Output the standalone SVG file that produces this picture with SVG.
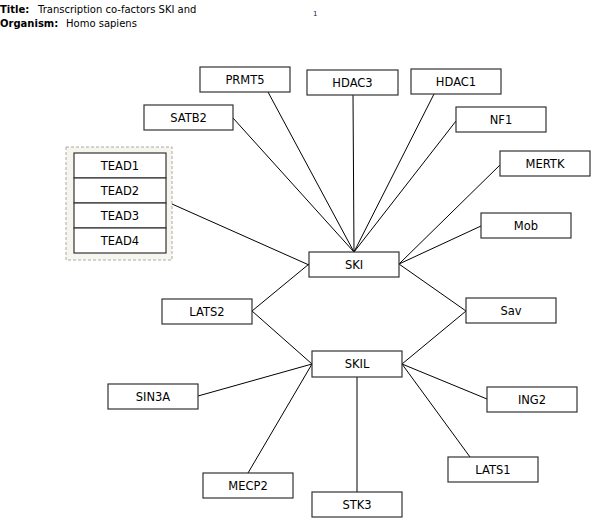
<svg xmlns="http://www.w3.org/2000/svg" width="604" height="532" viewBox="0 0 604 532">
<style>
text{font-family:"DejaVu Sans",sans-serif;fill:#000}
.hd{font-size:10px}
.b{font-weight:bold}
.n rect{fill:#fff;stroke:#333;stroke-width:1.2}
.n text{font-size:11.5px;text-anchor:middle}
.e line{stroke:#000;stroke-width:1}
</style>
<rect width="604" height="532" fill="#fff"/>
<text class="hd b" x="0" y="13">Title:</text>
<text class="hd" x="38" y="13">Transcription co-factors SKI and</text>
<text class="hd b" x="0" y="27">Organism:</text>
<text class="hd" x="66" y="27">Homo sapiens</text>
<text x="313" y="16" style="font-size:7px;fill:#224">1</text>
<g class="e" id="connectors">
<line x1="172" y1="204" x2="309" y2="265"/>
<line x1="233" y1="118" x2="354" y2="252"/>
<line x1="268" y1="92" x2="354" y2="252"/>
<line x1="353" y1="95" x2="354" y2="252"/>
<line x1="434" y1="94" x2="354" y2="252"/>
<line x1="456" y1="121" x2="354" y2="252"/>
<line x1="500" y1="165" x2="399" y2="264"/>
<line x1="481" y1="226" x2="399" y2="264"/>
<line x1="309" y1="264" x2="252" y2="311"/>
<line x1="399" y1="264" x2="466" y2="311"/>
<line x1="252" y1="311" x2="312" y2="364"/>
<line x1="466" y1="311" x2="402" y2="364"/>
<line x1="198" y1="396" x2="312" y2="364"/>
<line x1="248" y1="473" x2="312" y2="364"/>
<line x1="357" y1="492" x2="357" y2="377"/>
<line x1="487" y1="399" x2="402" y2="364"/>
<line x1="470" y1="457" x2="402" y2="364"/>
</g>
<g id="TEAD-group">
<rect x="66" y="147" width="106" height="113" fill="#f6f6ee" stroke="#aaa" stroke-dasharray="3,2"/>
<g class="n" id="TEAD1"><rect x="74" y="153" width="92" height="25"/><text x="120" y="170">TEAD1</text></g>
<g class="n" id="TEAD2"><rect x="74" y="178" width="92" height="25"/><text x="120" y="195">TEAD2</text></g>
<g class="n" id="TEAD3"><rect x="74" y="203" width="92" height="25"/><text x="120" y="220">TEAD3</text></g>
<g class="n" id="TEAD4"><rect x="74" y="228" width="92" height="25"/><text x="120" y="245">TEAD4</text></g>
</g>
<g class="n" id="PRMT5"><rect x="200" y="67" width="90" height="25"/><text x="245" y="84">PRMT5</text></g>
<g class="n" id="HDAC3"><rect x="307" y="70" width="91" height="25"/><text x="352.5" y="87">HDAC3</text></g>
<g class="n" id="HDAC1"><rect x="411" y="69" width="90" height="25"/><text x="456" y="86">HDAC1</text></g>
<g class="n" id="SATB2"><rect x="144" y="105" width="89" height="25"/><text x="188.5" y="122">SATB2</text></g>
<g class="n" id="NF1"><rect x="456" y="107" width="90" height="25"/><text x="501" y="124">NF1</text></g>
<g class="n" id="MERTK"><rect x="500" y="151" width="90" height="25"/><text x="545" y="168">MERTK</text></g>
<g class="n" id="Mob"><rect x="481" y="213" width="90" height="25"/><text x="526" y="230">Mob</text></g>
<g class="n" id="SKI"><rect x="309" y="252" width="90" height="25"/><text x="354" y="269">SKI</text></g>
<g class="n" id="LATS2"><rect x="162" y="299" width="90" height="25"/><text x="207" y="316">LATS2</text></g>
<g class="n" id="Sav"><rect x="466" y="298" width="90" height="25"/><text x="511" y="315">Sav</text></g>
<g class="n" id="SKIL"><rect x="312" y="351" width="90" height="26"/><text x="357" y="368">SKIL</text></g>
<g class="n" id="SIN3A"><rect x="108" y="384" width="90" height="25"/><text x="153" y="401">SIN3A</text></g>
<g class="n" id="ING2"><rect x="487" y="387" width="90" height="25"/><text x="532" y="404">ING2</text></g>
<g class="n" id="LATS1"><rect x="448" y="457" width="90" height="25"/><text x="493" y="474">LATS1</text></g>
<g class="n" id="MECP2"><rect x="203" y="473" width="90" height="25"/><text x="248" y="490">MECP2</text></g>
<g class="n" id="STK3"><rect x="312" y="492" width="90" height="25"/><text x="357" y="509">STK3</text></g>
</svg>
